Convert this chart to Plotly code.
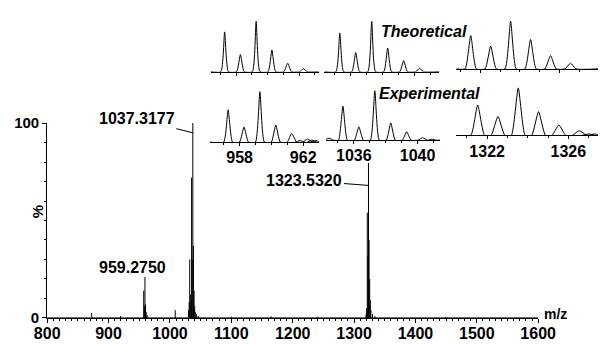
import plotly.graph_objects as go

W, H = 616, 344

# ---------------- data ----------------
# main spectrum (m/z, relative intensity %)
main_mz = [872.5, 919.8, 957.27, 958.27, 959.275, 960.27, 961.27, 963.0, 1008.6,
           1030.3, 1031.3, 1032.26, 1033.3, 1034.3, 1035.29, 1036.29, 1037.3177,
           1038.34, 1039.33, 1040.32, 1041.3, 1043.0, 1046.0, 1100.0, 1165.0, 1240.0,
           1319.5, 1320.5, 1321.55, 1322.53, 1323.532, 1324.53, 1325.53, 1326.53,
           1327.5, 1330.0, 1334.0, 1450.0]
main_int = [2.5, 1.0, 14, 6, 21, 7, 3, 1.5, 4,
            4, 8, 30, 12, 9, 72, 30, 100,
            37, 14, 6, 3, 2, 1, 0.7, 0.8, 0.6,
            2, 5, 54, 32, 79.5, 40, 20, 9,
            4, 2, 1, 0.5]

# inset 1 (around 959)
iso1_mz = [957.275, 958.275, 959.275, 960.275, 961.275, 962.275]
theo1 = [79, 34, 100, 43, 17, 6]
expt1 = [64, 30, 100, 34, 17, 6]
noise1_mz = [961.8, 962.55, 962.8]
noise1_int = [3, 4, 3]

# inset 2 (around 1037)
iso2_mz = [1035.318, 1036.318, 1037.318, 1038.318, 1039.318, 1040.318]
theo2 = [77, 38, 100, 47, 22, 7]
expt2 = [69, 27, 100, 35, 17, 5]
noise2_mz = [1034.45, 1040.9]
noise2_int = [4, 2]

# inset 3 (around 1323)
iso3_mz = [1321.532, 1322.532, 1323.532, 1324.532, 1325.532, 1326.532]
theo3 = [70, 48, 100, 62, 28, 12]
expt3 = [64, 40, 100, 50, 22, 10]
noise3_mz = [1327.0, 1327.3]
noise3_int = [3, 3]

x_ticks = [800, 900, 1000, 1100, 1200, 1300, 1400, 1500, 1600]
inset_ticks = [[958, 962], [1036, 1040], [1322, 1326]]

FONT = "Liberation Sans, Arial, sans-serif"


def sticks(mz, inten):
    xs, ys = [], []
    for m, v in zip(mz, inten):
        xs += [m, m, None]
        ys += [0, v, None]
    return xs, ys


def profile(mz, inten, hw, lo, hi):
    pts = sorted(zip(mz, inten))
    xs, ys = [lo], [0]
    for m, v in pts:
        xs += [m - hw, m, m + hw]
        ys += [0, v, 0]
    xs.append(hi)
    ys.append(0)
    return xs, ys


def xdom(a, b):
    return [a / W, b / W]


def ydom(bottom, top):
    return [1 - bottom / H, 1 - top / H]


fig = go.Figure()

# main spectrum
sx, sy = sticks(main_mz, main_int)
fig.add_trace(go.Scatter(x=[800, 1600], y=[0, 0], mode="lines",
                         line=dict(color="black", width=1), xaxis="x", yaxis="y",
                         showlegend=False, hoverinfo="skip"))
fig.add_trace(go.Scatter(x=sx, y=sy, mode="lines", line=dict(color="black", width=1),
                         xaxis="x", yaxis="y", showlegend=False))

# inset definitions
insets = [
    (iso1_mz, theo1, [], [], 0.24, 208, 322, 66, 53, [956.38, 963.25], inset_ticks[0], False),
    (iso2_mz, theo2, [], [], 0.24, 328, 449, 66, 53, [1034.36, 1041.56], inset_ticks[1], False),
    (iso3_mz, theo3, [], [], 0.28, 467, 616, 63, 50, [1320.82, 1327.91], inset_ticks[2], False),
    (iso1_mz, expt1, noise1_mz, noise1_int, 0.28, 207, 322, 140, 53, [956.11, 962.98], inset_ticks[0], True),
    (iso2_mz, expt2, noise2_mz, noise2_int, 0.28, 330, 450, 138, 52, [1034.28, 1041.43], inset_ticks[1], True),
    (iso3_mz, expt3, noise3_mz, noise3_int, 0.34, 467, 616, 133, 50, [1320.49, 1327.46], inset_ticks[2], True),
]

layout_axes = {}
for i, (mz, inten, nmz, nint, hw, x0, x1, base, hpx, xr, tv, lab) in enumerate(insets):
    k = i + 2
    px, py = profile(list(mz) + list(nmz), list(inten) + list(nint), hw, xr[0], xr[1])
    fig.add_trace(go.Scatter(x=px, y=py, mode="lines",
                             line=dict(color="black", width=1, shape="spline", smoothing=0.5),
                             xaxis=f"x{k}", yaxis=f"y{k}", showlegend=False))
    top = base - hpx * 1.06
    layout_axes[f"xaxis{k}"] = dict(
        domain=xdom(x0, x1), anchor=f"y{k}", range=xr, showgrid=False, zeroline=False,
        showline=True, linecolor="black", linewidth=1,
        ticks="outside", ticklen=3, tickwidth=1, tickcolor="black",
        tickvals=tv, showticklabels=lab, ticklabelstandoff=-2,
        tickfont=dict(family=FONT, size=16, color="black", weight="bold"),
        minor=dict(dtick=1, tick0=0, ticks="outside", ticklen=2, tickcolor="black"),
    )
    layout_axes[f"yaxis{k}"] = dict(
        domain=ydom(base, top), anchor=f"x{k}", range=[0, 106], visible=False,
    )

axis_font = dict(family=FONT, size=16, color="black", weight="bold")
fig.update_layout(
    width=W, height=H, margin=dict(l=0, r=0, t=0, b=0),
    paper_bgcolor="white", plot_bgcolor="rgba(0,0,0,0)",
    xaxis=dict(domain=xdom(36, 553), anchor="y", range=[800, 1600], showgrid=False,
               zeroline=False, showline=True, linecolor="black", linewidth=1,
               ticks="outside", ticklen=4, tickcolor="black", tickvals=x_ticks,
               ticklabelstandoff=-3, tickfont=axis_font,
               minor=dict(dtick=10, ticks="outside", ticklen=2, tickcolor="black")),
    yaxis=dict(domain=ydom(325, 120), anchor="x", range=[0, 100], showgrid=False,
               zeroline=False, showline=True, linecolor="black", linewidth=1,
               ticks="outside", ticklen=4, tickcolor="black", tickvals=[0, 100],
               tickfont=dict(family=FONT, size=15, color="black", weight="bold"),
               minor=dict(dtick=10, ticks="outside", ticklen=2, tickcolor="black")),
    **layout_axes,
)

bold = dict(family=FONT, size=16, color="black", weight="bold")
ann = [
    dict(x=1037.3177, y=95, xref="x", yref="y", text="1037.3177", showarrow=True,
         arrowhead=0, arrowwidth=1, arrowcolor="black", ax=-56, ay=-14, font=bold),
    dict(x=1323.532, y=68, xref="x", yref="y", text="1323.5320", showarrow=True,
         arrowhead=0, arrowwidth=1, arrowcolor="black", ax=-64, ay=-5, font=bold),
    dict(x=939.3, y=25.8, xref="x", yref="y", text="959.2750", showarrow=False, font=bold),
    dict(x=433 / W, y=1 - 24 / H, xref="paper", yref="paper", text="<i>Theoretical</i>",
         xanchor="center", yanchor="middle", showarrow=False, font=bold),
    dict(x=439 / W, y=1 - 89 / H, xref="paper", yref="paper", text="<i>Experimental</i>",
         xanchor="center", yanchor="middle", showarrow=False, font=bold),
    dict(x=26 / W, y=1 - 213 / H, xref="paper", yref="paper", text="%", textangle=-90,
         xanchor="center", yanchor="middle", showarrow=False,
         font=dict(family=FONT, size=15, color="black", weight="bold")),
    dict(x=571 / W, y=1 - 321 / H, xref="paper", yref="paper", text="m/z",
         xanchor="center", yanchor="middle", showarrow=False,
         font=dict(family=FONT, size=14, color="black", weight="bold")),
]
fig.update_layout(annotations=ann)

fig.write_html("out.html")
